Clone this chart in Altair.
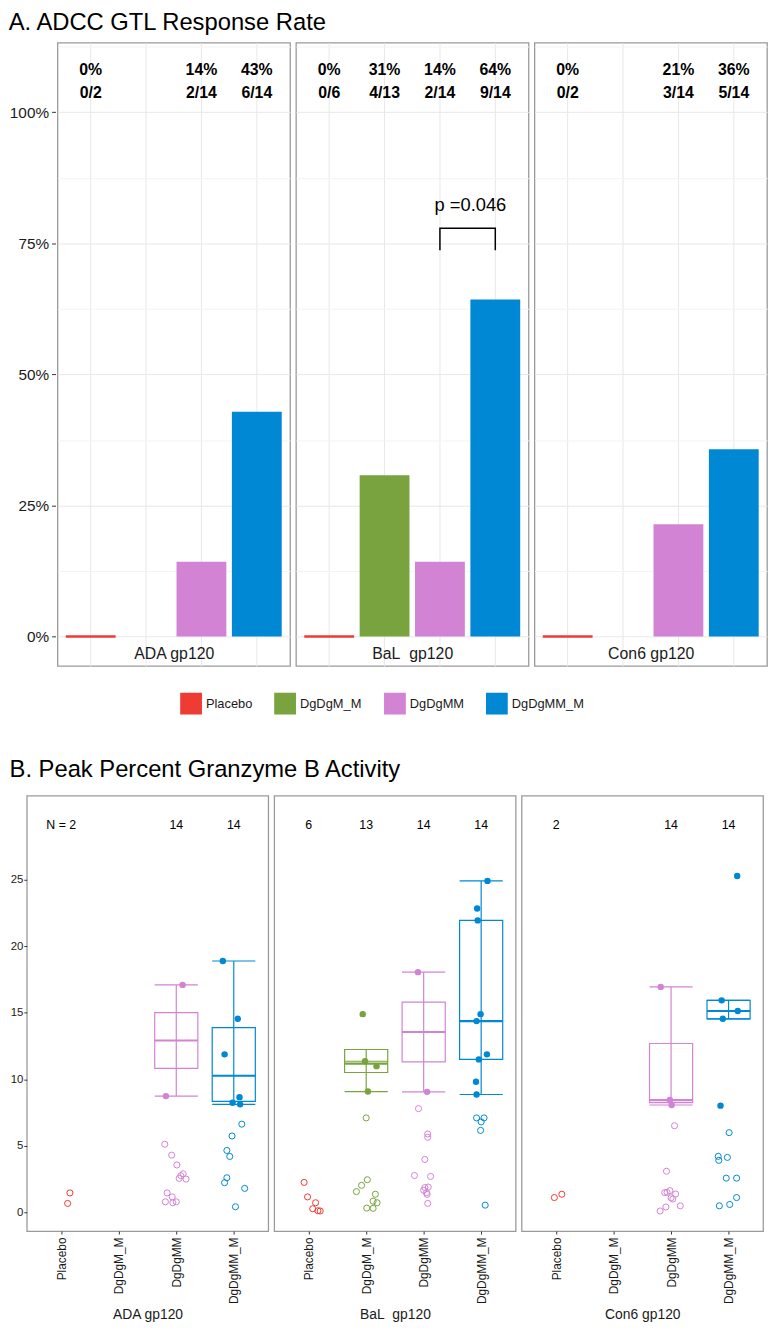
import json
import altair as alt
import pandas as pd

GROUPS = ["Placebo", "DgDgM_M", "DgDgMM", "DgDgMM_M"]
COLORS = ["#EE3B33", "#78A33E", "#D283D4", "#0088D4"]
# the BaL label keeps its double space (one of them non-breaking so SVG keeps it)
ANTIGENS = ["ADA gp120", "BaL\u00a0 gp120", "Con6 gp120"]

# Peak percent granzyme B activity, each entry = (value, horizontal jitter in category units)
# resp = responders (filled dots), non = non-responders (open circles)
ADA_Placebo_non = [(1.46, 0.15), (0.67, 0.11)]
ADA_DgDgMM_resp = [(17.1, 0.11), (8.74, -0.18)]
ADA_DgDgMM_non = [(5.12, -0.2), (4.3, -0.08), (3.56, 0.01), (2.9, 0.12), (2.75, 0.08),
                  (2.55, 0.05), (2.5, 0.17), (1.46, -0.16), (1.16, -0.07), (0.79, -0.19),
                  (0.72, -0.06), (0.79, 0.0)]
ADA_DgDgMM_M_resp = [(18.9, -0.19), (14.55, 0.07), (11.88, -0.16), (8.66, 0.1),
                     (8.24, -0.02), (8.12, 0.11)]
ADA_DgDgMM_M_non = [(6.63, 0.14), (5.74, -0.03), (4.65, -0.12), (4.2, -0.07), (2.6, -0.12),
                    (2.23, -0.16), (1.8, 0.19), (0.42, 0.03)]

BaL_Placebo_non = [(2.25, -0.08), (1.16, -0.02), (0.72, 0.12), (0.27, 0.07), (0.12, 0.16),
                   (0.1, 0.2)]
BaL_DgDgM_M_resp = [(14.9, -0.06), (11.36, -0.02), (10.99, 0.18), (9.08, 0.03)]
BaL_DgDgM_M_non = [(7.1, 0.0), (2.45, 0.02), (2.03, -0.08), (1.56, -0.17), (1.36, 0.16),
                   (0.84, 0.12), (0.72, 0.19), (0.32, 0.01), (0.3, 0.12)]
BaL_DgDgMM_resp = [(18.06, -0.1), (9.06, 0.06)]
BaL_DgDgMM_non = [(7.8, -0.09), (5.89, 0.07), (5.64, 0.07), (3.98, 0.02), (2.77, -0.16),
                  (2.7, 0.12), (1.9, 0.08), (1.86, 0.02), (1.66, 0.0), (1.48, 0.05),
                  (1.35, 0.06), (0.67, 0.07)]
BaL_DgDgMM_M_resp = [(24.92, 0.11), (22.84, -0.07), (21.95, -0.06), (14.9, -0.01),
                     (14.38, -0.08), (11.88, 0.1), (11.5, -0.04), (9.82, -0.09), (8.86, -0.08)]
BaL_DgDgMM_M_non = [(7.1, -0.08), (7.1, 0.05), (6.8, 0.0), (6.16, -0.01), (0.54, 0.07)]

Con6_Placebo_non = [(1.11, -0.03), (1.36, 0.1)]
Con6_DgDgMM_resp = [(16.95, -0.18), (8.44, -0.02), (8.07, 0.01)]
Con6_DgDgMM_non = [(6.51, 0.06), (3.09, -0.08), (1.48, -0.11), (1.63, -0.02), (1.38, 0.08),
                   (1.09, 0.0), (1.0, 0.03), (0.49, 0.16), (0.4, -0.09), (0.1, -0.19),
                   (1.5, -0.07)]
Con6_DgDgMM_M_resp = [(25.29, 0.15), (15.94, -0.12), (15.14, 0.16), (14.55, -0.1),
                      (8.02, -0.14)]
Con6_DgDgMM_M_non = [(5.99, 0.01), (4.21, -0.18), (3.91, -0.17), (4.13, -0.02), (2.57, -0.04),
                     (2.57, 0.14), (1.11, 0.14), (0.59, 0.02), (0.49, -0.16)]

PANEL_GROUPS = [
    (ANTIGENS[0], "Placebo", [], ADA_Placebo_non),
    (ANTIGENS[0], "DgDgMM", ADA_DgDgMM_resp, ADA_DgDgMM_non),
    (ANTIGENS[0], "DgDgMM_M", ADA_DgDgMM_M_resp, ADA_DgDgMM_M_non),
    (ANTIGENS[1], "Placebo", [], BaL_Placebo_non),
    (ANTIGENS[1], "DgDgM_M", BaL_DgDgM_M_resp, BaL_DgDgM_M_non),
    (ANTIGENS[1], "DgDgMM", BaL_DgDgMM_resp, BaL_DgDgMM_non),
    (ANTIGENS[1], "DgDgMM_M", BaL_DgDgMM_M_resp, BaL_DgDgMM_M_non),
    (ANTIGENS[2], "Placebo", [], Con6_Placebo_non),
    (ANTIGENS[2], "DgDgMM", Con6_DgDgMM_resp, Con6_DgDgMM_non),
    (ANTIGENS[2], "DgDgMM_M", Con6_DgDgMM_M_resp, Con6_DgDgMM_M_non),
]

# p-value annotation (BaL panel)
PVAL_PANEL = ANTIGENS[1]
PVAL_LABEL = "p =0.046"
PVAL_Y = 0.823
BRACKET_X = ["DgDgMM", "DgDgMM", "DgDgMM_M", "DgDgMM_M"]
BRACKET_Y = [0.737, 0.779, 0.779, 0.737]

PCT_Y = 1.081
FRAC_Y = 1.0375
N_Y = 29.1

rows = []
for ag, g, resp, non in PANEL_GROUPS:
    for v, j in resp:
        rows.append({"antigen": ag, "group": g, "value": v, "resp": 1, "jit": j})
    for v, j in non:
        rows.append({"antigen": ag, "group": g, "value": v, "resp": 0, "jit": j})
points = pd.DataFrame(rows)
bracket_df = pd.DataFrame({"bx": BRACKET_X, "by": BRACKET_Y, "bo": list(range(len(BRACKET_X)))})
pval_df = pd.DataFrame({"label": [PVAL_LABEL]})
legend_df = pd.DataFrame({"group": GROUPS})

FONT = "Liberation Sans"
TXT = "#1a1a1a"
cscale = alt.Scale(domain=GROUPS, range=COLORS)

# ---------------- Part A ----------------
A_W, A_H = 235, 630
ya_scale = alt.Scale(domain=[-0.0563, 1.133], nice=False, zero=False)
xa_scale = alt.Scale(domain=GROUPS, paddingInner=0.1, paddingOuter=0.15)
MAJOR = "(datum.value * 4) % 1 == 0"
grid_vals = [i * 0.125 for i in range(10)]

grid_axis = alt.Axis(
    values=grid_vals, domain=False, title=None, labels=False, ticks=False,
    minExtent=0, maxExtent=0,
    gridColor={"condition": {"test": MAJOR, "value": "#E8E8E8"}, "value": "#F3F3F3"})


def xa_axis(ag):
    return alt.Axis(title=ag, labels=False, ticks=False, domain=False, grid=True,
                    gridColor="#E8E8E8", bandPosition=0.5, titleY=-13,
                    titleBaseline="middle", titleFontSize=16, titleFontWeight="normal",
                    titleColor=TXT, minExtent=0, maxExtent=0)


def panel_a(ag):
    base = (alt.Chart(points)
            .transform_filter(alt.FieldEqualPredicate(field="antigen", equal=ag))
            .transform_aggregate(n="count()", r="sum(resp)", groupby=["group"])
            .transform_calculate(rate="datum.r / datum.n",
                                 pct="format(datum.r / datum.n, '.0%')",
                                 frac="datum.r + '/' + datum.n"))
    X = alt.X("group:N", scale=xa_scale, axis=xa_axis(ag))
    Y = alt.Y("rate:Q", scale=ya_scale, axis=grid_axis)
    C = alt.Color("group:N", scale=cscale, legend=None)
    bars = base.mark_bar().encode(x=X, y=Y, color=C)
    zero = base.transform_filter("datum.rate == 0").mark_bar(
        filled=False, strokeWidth=2.5).encode(x=X, y=Y, color=C)
    pct = base.mark_text(fontSize=16, fontWeight="bold", color="black").encode(
        x=X, y=alt.YDatum(PCT_Y), text="pct:N")
    frac = base.mark_text(fontSize=16, fontWeight="bold", color="black").encode(
        x=X, y=alt.YDatum(FRAC_Y), text="frac:N")
    layers = [bars, zero, pct, frac]
    if ag == PVAL_PANEL:
        br = alt.Chart(bracket_df).mark_line(color="black", strokeWidth=1.5).encode(
            x=alt.X("bx:N", scale=xa_scale, axis=xa_axis(ag)),
            y=alt.Y("by:Q", scale=ya_scale, axis=grid_axis),
            order="bo:Q")
        pt = alt.Chart(pval_df).mark_text(fontSize=18.5, color="black").encode(
            x=alt.XDatum("DgDgMM_M", type="nominal", bandPosition=0),
            y=alt.YDatum(PVAL_Y), text="label:N")
        layers += [br, pt]
    return alt.layer(*layers).properties(width=A_W, height=A_H)


# y axis of part A drawn on a narrow blank strip to the left of the first panel
axis_strip = (alt.Chart(points)
              .transform_aggregate(n="count()", r="sum(resp)", groupby=["antigen", "group"])
              .transform_calculate(rate="datum.r / datum.n")
              .mark_point(opacity=0, size=0)
              .encode(y=alt.Y("rate:Q", scale=ya_scale,
                              axis=alt.Axis(orient="right", values=grid_vals, domain=False,
                                            title=None, grid=False,
                                            labelExpr=f"{MAJOR} ? format(datum.value, '.0%') : ''",
                                            tickOpacity={"condition": {"test": MAJOR, "value": 1},
                                                         "value": 0},
                                            tickSize=4, tickColor="#333333", labelFontSize=15.5,
                                            labelColor=TXT, labelAlign="right", labelPadding=-7,
                                            minExtent=4, maxExtent=4)))
              .properties(width=25, height=A_H, view=alt.ViewBackground(stroke="transparent")))

A_panels = alt.hconcat(*[panel_a(ag) for ag in ANTIGENS], spacing=4)
A = alt.hconcat(axis_strip, A_panels, spacing=-4).properties(
    title=alt.Title("A. ADCC GTL Response Rate", anchor="start", fontSize=24,
                    fontWeight="normal", color="black", offset=7))

# ---------------- Legend ----------------
L = alt.Chart(legend_df).mark_square(size=0, opacity=0, filled=True).encode(
    color=alt.Color("group:N", scale=cscale,
                    legend=alt.Legend(title=None, orient="right", offset=154,
                                      direction="horizontal", columns=4, symbolType="square",
                                      symbolSize=484, symbolStrokeWidth=0, symbolOpacity=1,
                                      labelFontSize=13, labelColor=TXT, columnPadding=22,
                                      labelOffset=4, padding=0))
).properties(width=1, height=40, view=alt.ViewBackground(stroke="transparent"))

# ---------------- Part B ----------------
B_W, B_H = 244, 440
xb_scale = alt.Scale(domain=[-0.6, 3.6], nice=False, zero=False)
yb_scale = alt.Scale(domain=[-1.41, 31.33], nice=False, zero=False)
GI = f"indexof({json.dumps(GROUPS)}, datum.group)"
LABEL_EXPR = f"{json.dumps(GROUPS)}[datum.value]"


def xb_axis(ag):
    return alt.Axis(title=ag, values=[0, 1, 2, 3], labelExpr=LABEL_EXPR, grid=False,
                    domain=False, labelAngle=270, labelAlign="right", labelBaseline="middle",
                    labelFontSize=12, labelColor=TXT, labelPadding=3, tickSize=3,
                    tickColor="#333333", titleFontSize=14, titleFontWeight="normal",
                    titleColor=TXT, titlePadding=4)


def yb_axis(first):
    if not first:
        return None
    return alt.Axis(title=None, values=[0, 5, 10, 15, 20, 25], grid=False, domain=False,
                    labelFontSize=11.5, labelColor=TXT, tickSize=3, tickColor="#333333",
                    labelPadding=1, minExtent=16, maxExtent=16)


def panel_b(ag, first):
    src = (alt.Chart(points)
           .transform_filter(alt.FieldEqualPredicate(field="antigen", equal=ag))
           .transform_calculate(gi=GI))
    xa, ya = xb_axis(ag), yb_axis(first)
    C = alt.Color("group:N", scale=cscale, legend=None)

    stats = (src.transform_filter("datum.resp == 1")
             .transform_joinaggregate(q1="q1(value)", q3="q3(value)", med="median(value)",
                                      groupby=["gi", "group"])
             .transform_calculate(lo="datum.q1 - 1.5 * (datum.q3 - datum.q1)",
                                  hi="datum.q3 + 1.5 * (datum.q3 - datum.q1)")
             .transform_filter("datum.value >= datum.lo && datum.value <= datum.hi")
             .transform_aggregate(wmin="min(value)", wmax="max(value)", bq1="min(q1)",
                                  bq3="min(q3)", bmed="min(med)", groupby=["gi", "group"])
             .transform_calculate(xl="datum.gi - 0.375", xr="datum.gi + 0.375",
                                  vlo="min(datum.wmin, datum.bq1)",
                                  vhi="max(datum.wmax, datum.bq3)"))

    whisk = stats.mark_rule(strokeWidth=1.2).encode(
        x=alt.X("gi:Q", scale=xb_scale, axis=xa),
        y=alt.Y("vlo:Q", scale=yb_scale, axis=ya), y2="vhi:Q", color=C)
    box = stats.mark_bar(filled=False, strokeWidth=1.2).encode(
        x=alt.X("xl:Q", scale=xb_scale, axis=xa), x2="xr:Q",
        y=alt.Y("bq1:Q", scale=yb_scale, axis=ya), y2="bq3:Q", color=C)
    med = stats.mark_rule(strokeWidth=2.2).encode(
        x=alt.X("xl:Q", scale=xb_scale, axis=xa), x2="xr:Q",
        y=alt.Y("bmed:Q", scale=yb_scale, axis=ya), color=C)
    capl = stats.mark_rule(strokeWidth=1.2).encode(
        x=alt.X("xl:Q", scale=xb_scale, axis=xa), x2="xr:Q",
        y=alt.Y("wmin:Q", scale=yb_scale, axis=ya), color=C)
    caph = stats.mark_rule(strokeWidth=1.2).encode(
        x=alt.X("xl:Q", scale=xb_scale, axis=xa), x2="xr:Q",
        y=alt.Y("wmax:Q", scale=yb_scale, axis=ya), color=C)

    pts = src.transform_calculate(px="datum.gi + datum.jit")
    open_pts = pts.transform_filter("datum.resp == 0").mark_point(
        shape="circle", filled=False, size=38, strokeWidth=1, opacity=1).encode(
        x=alt.X("px:Q", scale=xb_scale, axis=xa),
        y=alt.Y("value:Q", scale=yb_scale, axis=ya), color=C)
    fill_pts = pts.transform_filter("datum.resp == 1").mark_point(
        shape="circle", filled=True, size=42, opacity=1).encode(
        x=alt.X("px:Q", scale=xb_scale, axis=xa),
        y=alt.Y("value:Q", scale=yb_scale, axis=ya), color=C)

    nexpr = "(datum.gi == 0 ? 'N = ' : '') + datum.n" if first else "'' + datum.n"
    ntext = (src.transform_aggregate(n="count()", groupby=["gi"])
             .transform_calculate(lab=nexpr)
             .mark_text(fontSize=12.5, color="black")
             .encode(x=alt.X("gi:Q", scale=xb_scale, axis=xa), y=alt.YDatum(N_Y),
                     text="lab:N"))
    return alt.layer(open_pts, whisk, box, med, capl, caph, fill_pts, ntext).properties(
        width=B_W, height=B_H)


B = alt.hconcat(*[panel_b(ag, i == 0) for i, ag in enumerate(ANTIGENS)], spacing=4).properties(
    title=alt.Title("B. Peak Percent Granzyme B Activity", anchor="start", fontSize=24,
                    fontWeight="normal", color="black", offset=13))

chart = (alt.concat(A, L, B, columns=1, spacing=25, bounds="full")
         .resolve_scale(color="independent")
         .properties(padding={"left": 0, "top": -4, "right": 0, "bottom": 0})
         .configure(font=FONT)
         .configure_view(stroke="#9A9A9A", strokeWidth=1.3)
         .configure_title(font=FONT))

chart.save("out.html", embed_options={"renderer": "svg", "actions": False})
